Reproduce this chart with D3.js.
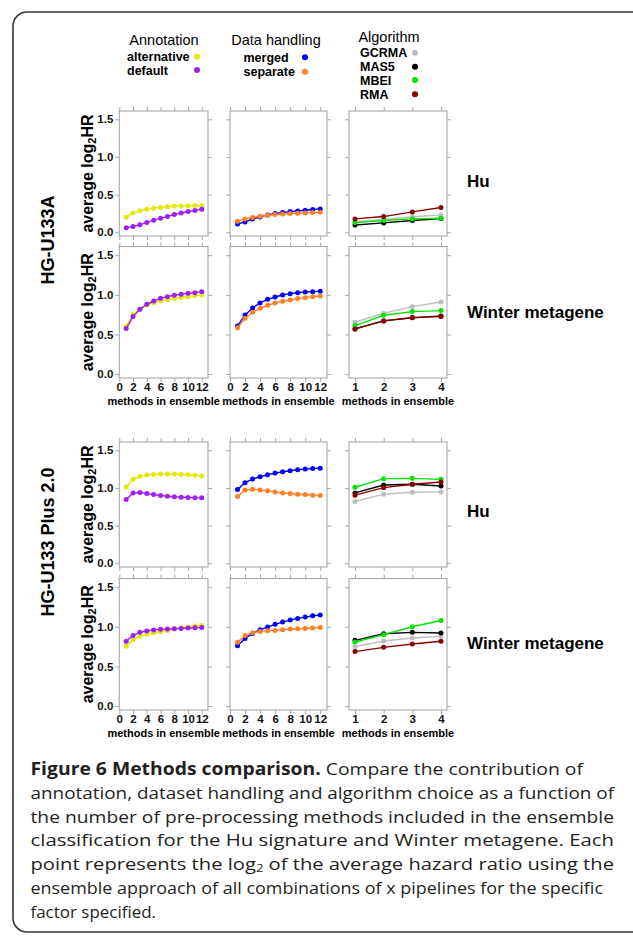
<!DOCTYPE html>
<html>
<head>
<meta charset="utf-8">
<script src="https://cdn.jsdelivr.net/npm/d3@7"></script>
<style>
  body { margin: 0; background: #fff; }
  svg { display: block; }
</style>
</head>
<body>
<div id="chart"></div>
<script>
// ---- data ----
const methods12 = [1, 2, 3, 4, 5, 6, 7, 8, 9, 10, 11, 12]
const methods4 = [1, 2, 3, 4]
const yTicks = [0, 0.5, 1.0, 1.5]
const xTicks12 = [0, 2, 4, 6, 8, 10, 12]

// HG-U133A, Hu
const aHuAlternative = [0.20, 0.255, 0.285, 0.305, 0.32, 0.33, 0.34, 0.345, 0.35, 0.35, 0.355, 0.355]
const aHuDefault     = [0.06, 0.075, 0.10, 0.13, 0.16, 0.185, 0.21, 0.235, 0.255, 0.275, 0.29, 0.305]
const aHuMerged      = [0.11, 0.137, 0.177, 0.203, 0.23, 0.248, 0.261, 0.274, 0.283, 0.292, 0.301, 0.31]
const aHuSeparate    = [0.146, 0.177, 0.195, 0.212, 0.226, 0.234, 0.243, 0.248, 0.252, 0.257, 0.261, 0.266]
const aHuGCRMA = [0.14, 0.17, 0.205, 0.23]
const aHuMAS5  = [0.097, 0.124, 0.155, 0.181]
const aHuMBEI  = [0.128, 0.155, 0.177, 0.186]
const aHuRMA   = [0.177, 0.208, 0.27, 0.328]

// HG-U133A, Winter metagene
const aWiAlternative = [0.608, 0.751, 0.818, 0.872, 0.901, 0.922, 0.939, 0.956, 0.969, 0.977, 0.99, 0.998]
const aWiDefault     = [0.574, 0.725, 0.818, 0.881, 0.922, 0.956, 0.977, 0.994, 1.006, 1.019, 1.027, 1.04]
const aWiMerged      = [0.608, 0.746, 0.834, 0.897, 0.943, 0.973, 0.998, 1.015, 1.027, 1.036, 1.04, 1.044]
const aWiSeparate    = [0.583, 0.704, 0.78, 0.83, 0.868, 0.897, 0.918, 0.935, 0.952, 0.964, 0.977, 0.985]
const aWiGCRMA = [0.654, 0.767, 0.851, 0.91]
const aWiMAS5  = [0.574, 0.671, 0.709, 0.734]
const aWiMBEI  = [0.612, 0.742, 0.788, 0.801]
const aWiRMA   = [0.566, 0.671, 0.713, 0.725]

// HG-U133 Plus 2.0, Hu
const pHuAlternative = [1.013, 1.114, 1.154, 1.171, 1.18, 1.184, 1.184, 1.184, 1.18, 1.176, 1.167, 1.158]
const pHuDefault     = [0.846, 0.934, 0.939, 0.925, 0.912, 0.899, 0.89, 0.882, 0.877, 0.873, 0.868, 0.868]
const pHuMerged      = [0.978, 1.07, 1.118, 1.149, 1.175, 1.197, 1.215, 1.228, 1.241, 1.25, 1.259, 1.263]
const pHuSeparate    = [0.886, 0.974, 0.982, 0.974, 0.961, 0.947, 0.934, 0.925, 0.917, 0.912, 0.904, 0.899]
const pHuGCRMA = [0.82, 0.917, 0.943, 0.947]
const pHuMAS5  = [0.934, 1.039, 1.048, 1.026]
const pHuMBEI  = [1.009, 1.123, 1.127, 1.114]
const pHuRMA   = [0.904, 1.004, 1.048, 1.079]

// HG-U133 Plus 2.0, Winter metagene
const pWiAlternative = [0.754, 0.838, 0.88, 0.905, 0.926, 0.939, 0.955, 0.972, 0.989, 0.997, 1.01, 1.018]
const pWiDefault     = [0.817, 0.892, 0.93, 0.947, 0.96, 0.968, 0.972, 0.976, 0.98, 0.985, 0.989, 0.993]
const pWiMerged      = [0.762, 0.854, 0.917, 0.964, 0.997, 1.031, 1.06, 1.085, 1.106, 1.123, 1.14, 1.148]
const pWiSeparate    = [0.804, 0.892, 0.926, 0.942, 0.951, 0.955, 0.964, 0.972, 0.976, 0.98, 0.985, 0.993]
const pWiGCRMA = [0.75, 0.821, 0.859, 0.88]
const pWiMAS5  = [0.829, 0.913, 0.93, 0.922]
const pWiMBEI  = [0.809, 0.901, 1.001, 1.08]
const pWiRMA   = [0.687, 0.741, 0.784, 0.817]

const annotationNames = ["alternative", "default"]
const handlingNames = ["merged", "separate"]
const algorithmNames = ["GCRMA", "MAS5", "MBEI", "RMA"]
const annotationColors = ["#e6e60a", "#a020f0"]
const handlingColors = ["#0000ff", "#ff7f24"]
const algorithmColors = ["#bebebe", "#000000", "#00e600", "#8b0000"]

const rowNames = ["Hu", "Winter metagene", "Hu", "Winter metagene"]
const platformNames = ["HG-U133A", "HG-U133 Plus 2.0"]

// rows -> [annotation series, handling series, algorithm series]
const panelData = [
  [[aHuAlternative, aHuDefault], [aHuMerged, aHuSeparate], [aHuGCRMA, aHuMAS5, aHuMBEI, aHuRMA]],
  [[aWiAlternative, aWiDefault], [aWiMerged, aWiSeparate], [aWiGCRMA, aWiMAS5, aWiMBEI, aWiRMA]],
  [[pHuAlternative, pHuDefault], [pHuMerged, pHuSeparate], [pHuGCRMA, pHuMAS5, pHuMBEI, pHuRMA]],
  [[pWiAlternative, pWiDefault], [pWiMerged, pWiSeparate], [pWiGCRMA, pWiMAS5, pWiMBEI, pWiRMA]]
]

// ---- layout ----
const width = 633, height = 941
const rows = [{top: 111, bottom: 236}, {top: 246.5, bottom: 378}, {top: 442, bottom: 567}, {top: 578.5, bottom: 710}]
const cols = [{left: 119.3, right: 208}, {left: 230, right: 327}, {left: 349, right: 447}]
const frameColor = "#a8a8a8"
const font = "Liberation Sans, Arial, sans-serif"

const svg = d3.select("#chart").append("svg")
  .attr("width", width)
  .attr("height", height)

// outer rounded box
svg.append("rect")
  .attr("x", 13).attr("y", 12)
  .attr("width", 640).attr("height", 920)
  .attr("rx", 14)
  .attr("fill", "none")
  .attr("stroke", "#333")
  .attr("stroke-width", 1.6)

// legend
function legend(title, names, colors, titleX, titleY, textX, dotX, ys) {
  svg.append("text")
    .attr("x", titleX).attr("y", titleY)
    .attr("text-anchor", "middle")
    .style("font-family", font)
    .style("font-size", "14.5px")
    .text(title)
  names.forEach((n, i) => {
    svg.append("text")
      .attr("x", textX).attr("y", ys[i] + 4.5)
      .style("font-family", font)
      .style("font-size", "12.5px")
      .style("font-weight", "bold")
      .text(n)
    svg.append("circle")
      .attr("cx", dotX).attr("cy", ys[i])
      .attr("r", 3)
      .attr("fill", colors[i])
  })
}
legend("Annotation", annotationNames, annotationColors, 164, 44.5, 127, 197, [56.7, 70])
legend("Data handling", handlingNames, handlingColors, 276, 44.5, 243.5, 305, [57.3, 71.7])
legend("Algorithm", algorithmNames, algorithmColors, 389, 42, 360, 415, [52.7, 66.7, 80, 94.3])

const colorSets = [annotationColors, handlingColors, algorithmColors]

rows.forEach((row, r) => {
  const y = d3.scaleLinear().domain([-0.05, 1.61]).range([row.bottom, row.top])
  const showX = (r === 1 || r === 3)

  cols.forEach((col, c) => {
    const x = c < 2
      ? d3.scaleLinear().domain([0, 12.9]).range([col.left, col.right])
      : d3.scaleLinear().domain([0.79, 4.21]).range([col.left, col.right])
    const xt = c < 2 ? xTicks12 : methods4
    const xs = c < 2 ? methods12 : methods4
    const g = svg.append("g")

    const styleAxis = sel => {
      sel.select(".domain").remove()
      sel.selectAll("line").attr("stroke", frameColor)
      sel.selectAll("text")
        .style("font-family", font)
        .style("font-size", "11.5px")
        .style("font-weight", "bold")
        .attr("fill", "#111")
    }

    g.append("g").attr("transform", `translate(${col.left},0)`)
      .call(d3.axisLeft(y).tickValues(yTicks).tickSize(4).tickPadding(2)
        .tickFormat(c === 0 ? d3.format(".1f") : ""))
      .call(styleAxis)
    g.append("g").attr("transform", `translate(${col.right},0)`)
      .call(d3.axisRight(y).tickValues(yTicks).tickSize(4).tickFormat(""))
      .call(styleAxis)
    g.append("g").attr("transform", `translate(0,${row.top})`)
      .call(d3.axisTop(x).tickValues(xt).tickSize(4).tickFormat(""))
      .call(styleAxis)
    g.append("g").attr("transform", `translate(0,${row.bottom})`)
      .call(d3.axisBottom(x).tickValues(xt).tickSize(4).tickPadding(1)
        .tickFormat(showX ? d3.format("d") : ""))
      .call(styleAxis)

    g.append("rect")
      .attr("x", col.left).attr("y", row.top)
      .attr("width", col.right - col.left).attr("height", row.bottom - row.top)
      .attr("fill", "none")
      .attr("stroke", frameColor)
      .attr("stroke-width", 1.1)

    const line = d3.line().x((d, i) => x(xs[i])).y(d => y(d))
    panelData[r][c].forEach((series, s) => {
      const col_ = colorSets[c][s]
      g.append("path")
        .datum(series)
        .attr("d", line)
        .attr("fill", "none")
        .attr("stroke", col_)
        .attr("stroke-width", 1.4)
      g.selectAll(null)
        .data(series)
        .join("circle")
        .attr("cx", (d, i) => x(xs[i]))
        .attr("cy", d => y(d))
        .attr("r", 2.5)
        .attr("fill", col_)
    })

    if (showX) {
      svg.append("text")
        .attr("x", (col.left + col.right) / 2)
        .attr("y", row.bottom + 27)
        .attr("text-anchor", "middle")
        .style("font-family", font)
        .style("font-size", "11px")
        .style("font-weight", "bold")
        .text("methods in ensemble")
    }
  })

  // y axis title
  const yt = svg.append("text")
    .attr("transform", `translate(93,${(row.top + row.bottom) / 2}) rotate(-90)`)
    .attr("text-anchor", "middle")
    .style("font-family", font)
    .style("font-size", "16px")
    .style("font-weight", "bold")
  yt.append("tspan").text("average log")
  yt.append("tspan").attr("baseline-shift", "-25%").style("font-size", "11px").text("2")
  yt.append("tspan").text("HR")

  // row label on the right
  svg.append("text")
    .attr("x", 467)
    .attr("y", [181, 311.7, 510.7, 643][r] + 6)
    .style("font-family", font)
    .style("font-size", "17px")
    .style("font-weight", "bold")
    .text(rowNames[r])
})

// platform labels
platformNames.forEach((p, i) => {
  svg.append("text")
    .attr("transform", `translate(54,${[240, 542][i]}) rotate(-90)`)
    .attr("text-anchor", "middle")
    .style("font-family", font)
    .style("font-size", "18px")
    .style("font-weight", "bold")
    .text(p)
})

// caption
const capLines = [
  {parts: [["Figure 6 Methods comparison.", true], [" Compare the contribution of", false]], end: 583},
  {parts: [["annotation, dataset handling and algorithm choice as a function of", false]], end: 614},
  {parts: [["the number of pre-processing methods included in the ensemble", false]], end: 614},
  {parts: [["classification for the Hu signature and Winter metagene. Each", false]], end: 614},
  {parts: [["point represents the log", false], ["2", "sub"], [" of the average hazard ratio using the", false]], end: 614},
  {parts: [["ensemble approach of all combinations of x pipelines for the specific", false]], end: 603},
  {parts: [["factor specified.", false]], end: 156}
]
const capX = 30.5
capLines.forEach((ln, i) => {
  const t = svg.append("text")
    .attr("x", capX)
    .attr("y", 775 + i * 23.8)
    .attr("textLength", ln.end - capX)
    .attr("lengthAdjust", "spacingAndGlyphs")
    .style("font-family", "Open Sans, Noto Sans, sans-serif")
    .style("font-size", "17px")
    .attr("fill", "#231f20")
  ln.parts.forEach((p, k) => {
    const s = t.append("tspan").text(p[0])
    if (p[1] === true) s.style("font-weight", "bold")
    if (p[1] === "sub") s.attr("dy", 2.2).style("font-size", "11px")
    else if (k > 0 && ln.parts[k - 1][1] === "sub") s.attr("dy", -2.2)
  })
})
</script>
</body>
</html>
